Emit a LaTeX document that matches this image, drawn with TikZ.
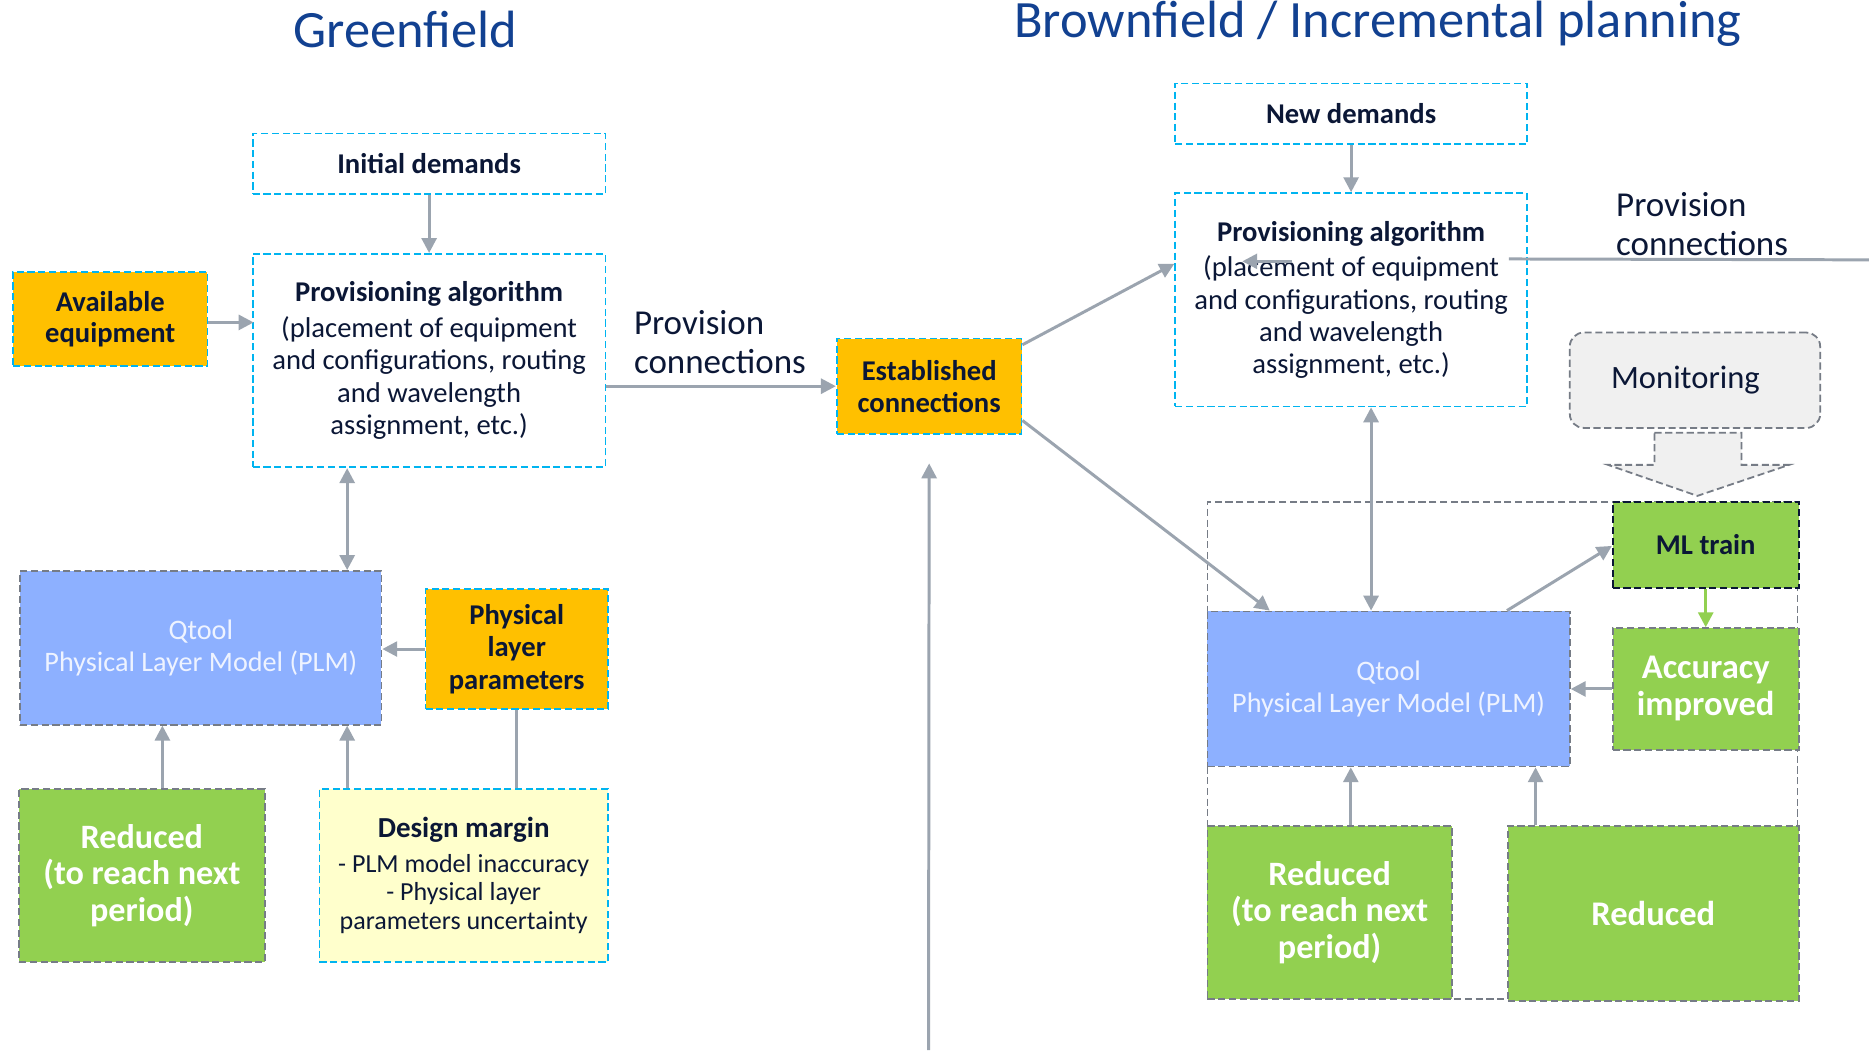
\documentclass[tikz,border=0pt]{standalone}
\usepackage{fontspec}
\setmainfont{Carlito}
\usetikzlibrary{arrows.meta,calc}

\definecolor{nkblue}{HTML}{124191}
\definecolor{ink}{HTML}{0B1736}
\definecolor{cyanline}{HTML}{00B4F0}
\definecolor{greyline}{HTML}{767C86}
\definecolor{arrowgrey}{HTML}{9BA4AF}
\definecolor{amber}{HTML}{FFC000}
\definecolor{leaf}{HTML}{92D050}
\definecolor{periwinkle}{HTML}{8DB0FF}
\definecolor{cream}{HTML}{FFFFCC}
\definecolor{mist}{HTML}{F0F0F0}
\definecolor{paletext}{HTML}{EEF3FF}

\newcommand\sz[2]{\fontsize{#1}{#2}\selectfont}

\tikzset{
  every node/.style={text=ink},
  % a box spanning the corners (x1,y1) and (x2,y2)
  span/.style n args={4}{minimum width={(#3-#1)*0.6pt}, minimum height={(#4-#2)*0.6pt},
                         at={({(#1+#3)/2},{(#2+#4)/2})}},
  blk/.style={inner sep=0pt, align=center, line width=0.9pt,
              dash pattern=on 3.6pt off 1.8pt},
  cyanbox/.style={blk, draw=cyanline},
  greybox/.style={blk, draw=greyline},
  tip/.tip={Triangle[length=7.5pt,width=7.5pt]},
  conn/.style={draw=arrowgrey, line width=1.5pt, -tip},
  conntwo/.style={draw=arrowgrey, line width=1.5pt, tip-tip},
  plainline/.style={draw=arrowgrey, line width=1.5pt},
  greenconn/.style={draw=leaf, line width=1.5pt, -tip},
  greenline/.style={draw=leaf, line width=1.5pt},
  boxtext/.style={font=\sz{14.4}{16.2}},
  bigwhite/.style={text=white, font=\sz{17.2}{18.4}\bfseries},
  plmtext/.style={text=paletext, font=\sz{14.2}{16.2}},
  heading/.style={text=nkblue, font=\sz{26.4}{30}},
  sidelabel/.style={anchor=west, align=left, font=\sz{17.6}{19.2}},
}

\begin{document}
\begin{tikzpicture}[x=0.6pt,y=-0.6pt]
\useasboundingbox (0,0) rectangle (1568,881);
\fill[white] (0,0) rectangle (1568,881);

% ---------------- headings ----------------
\node[heading] (gtitle) at (340,25) {Greenfield};
\node[heading] (btitle) at (1156,20) {Brownfield / Incremental planning};

% ---------------- greenfield flow ----------------
\node[cyanbox, fill=white, boxtext, span={212}{112}{508}{163}] (initdem)
  {\textbf{Initial demands}};
\node[cyanbox, fill=white, boxtext, span={212}{213}{508}{392}] (provL)
  {\textbf{Provisioning algorithm}\\[1.8pt]
   (placement of equipment\\ and configurations, routing\\ and wavelength\\ assignment, etc.)};
\node[cyanbox, fill=amber, font=\sz{14.4}{15.6}\bfseries, span={11}{228}{174}{307}] (avail)
  {Available\\ equipment};
\node[cyanbox, fill=amber, font=\sz{14.4}{16.2}\bfseries, span={702}{284}{857}{364}] (est)
  {Established\\ connections};
\node[greybox, fill=periwinkle, plmtext, span={17}{479}{320}{608}] (plmL)
  {Qtool\\ Physical Layer Model (PLM)};
\node[cyanbox, fill=amber, font=\sz{14.4}{16.2}\bfseries, span={357}{494}{510}{595}] (plp)
  {Physical\\ layer\\ parameters};
\node[greybox, fill=leaf, bigwhite, span={16}{662}{222}{807}] (redL)
  {Reduced\\ (to reach next\\ period)};
\node[cyanbox, fill=cream, font=\sz{13.1}{14.4}, span={268}{662}{510}{807}] (dm)
  {\textbf{\sz{14.6}{16}Design margin}\\[3pt]
   - PLM model inaccuracy\\ - Physical layer\\ parameters uncertainty};

\node[sidelabel] (provlabL) at (526,287) {Provision\\ connections};

\draw[conn] (initdem.south) -- (provL.north);
\draw[conn] ($(avail.east)+(0,3)$) -- ($(avail.east)+(38,3)$);
\draw[conn] (provL.east |- est.west) -- (est.west);
\draw[conntwo] ($(provL.south west)+(80,0)$) -- ($(plmL.north west)+(275,0)$);
\draw[conn] (plp.west) -- (plp.west -| plmL.east);
\draw[conn] ($(redL.north west)+(121,0)$) -- ($(plmL.south west)+(120,0)$);
\draw[conn] ($(dm.north west)+(24,0)$) -- ($(plmL.south west)+(275,0)$);
\draw[plainline] (plp.south) -- (plp.south |- dm.north);

\coordinate (feedbase) at (779,881);
\draw[conn] (feedbase) -- ($(est.south)+(0,24)$);

% ---------------- brownfield flow ----------------
\node[greybox, line width=0.7pt, span={1013}{421}{1508}{838}] (zone) {};

\node[cyanbox, fill=white, boxtext, span={986}{70}{1281}{121}] (newdem)
  {\textbf{New demands}};
\node[cyanbox, fill=white, boxtext, span={986}{162}{1281}{341}] (provR)
  {\textbf{Provisioning algorithm}\\[1.8pt]
   (placement of equipment\\ and configurations, routing\\ and wavelength\\ assignment, etc.)};
\node[sidelabel] (provlabR) at (1350,188) {Provision\\ connections};

\node[greybox, fill=mist, rounded corners=7pt, font=\sz{16.4}{18},
      span={1317}{279}{1527}{359}] (mon) {\raisebox{-2.4pt}{Monitoring}\hspace*{9.6pt}};
\draw[greyline, fill=mist, line width=0.9pt, dash pattern=on 3.6pt off 1.8pt]
  (1388,363) -- (1461,363) -- (1461,390) -- (1501,390) -- (1424,416)
  -- (1349,390) -- (1388,390) -- cycle;

\node[blk, draw=ink, fill=leaf, boxtext, span={1353}{421}{1509}{493}] (mltrain)
  {\textbf{ML train}};
\node[greybox, fill=leaf, bigwhite, font=\sz{17.4}{18.6}\bfseries,
      span={1353}{527}{1509}{629}] (acc) {Accuracy\\ improved};
\node[greybox, fill=periwinkle, plmtext, span={1013}{513}{1317}{643}] (plmR)
  {Qtool\\ Physical Layer Model (PLM)};
\node[greybox, fill=leaf, bigwhite, span={1013}{693}{1218}{838}] (redRa)
  {Reduced\\ (to reach next\\ period)};
\node[greybox, fill=leaf, bigwhite, font=\sz{17.4}{18.6}\bfseries,
      span={1265}{693}{1509}{840}] (redRb) {Reduced};

\draw[conn] (newdem.south) -- (provR.north);
\draw[conn] ($(est.north east)+(0,6)$) -- ($(provR.north west)+(0,60)$);
\draw[conn] ($(est.south east)+(0,-12)$) -- ($(plmR.north west)+(53,0)$);
\draw[conntwo] ($(provR.south west)+(165,0)$) -- ($(plmR.north west)+(138,0)$);

\coordinate (edgeR) at (1568,218);
\draw[plainline] (edgeR) -- ($(provR.north east)+(-16,56)$);
\draw[conn] ($(provR.north west)+(99,58)$) -- ($(provR.north west)+(57,58)$);

\draw[conn] ($(plmR.north west)+(252,0)$) -- ($(mltrain.west)+(0,1)$);
\draw[greenconn] (mltrain.south) -- (acc.north);
\draw[greenline] ($(acc.south)+(-1,0)$) -- ($(acc.south)+(-1,0)$ |- redRb.north);
\draw[conn] (acc.west) -- (acc.west -| plmR.east);
\draw[conn] ($(redRa.north west)+(121,0)$) -- ($(plmR.south west)+(121,0)$);
\draw[conn] ($(redRb.north west)+(24,0)$) -- ($(plmR.south west)+(276,0)$);
\end{tikzpicture}
\end{document}
